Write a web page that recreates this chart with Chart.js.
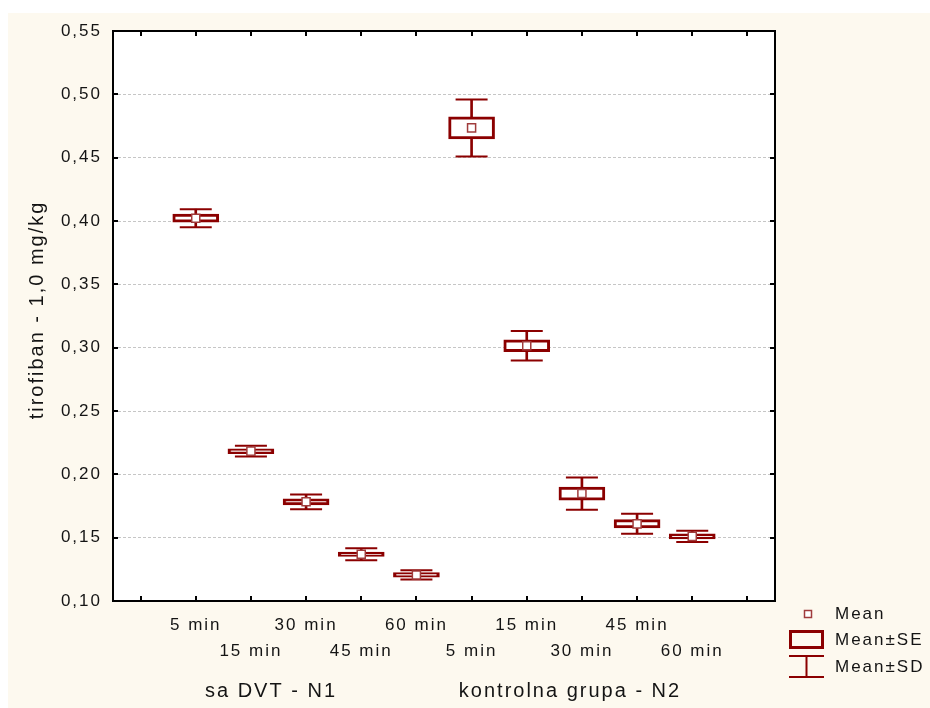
<!DOCTYPE html>
<html><head><meta charset="utf-8">
<script src="https://cdn.jsdelivr.net/npm/chart.js@4.4.1/dist/chart.umd.min.js"></script>
<style>html,body{margin:0;padding:0;background:#fff;overflow:hidden}canvas{display:block}</style>
</head><body>
<canvas id="c" width="930" height="708"></canvas>
<script>
// ---- data ----
const categories = ['5 min','15 min','30 min','45 min','60 min','5 min','15 min','30 min','45 min','60 min'];
const groups = ['sa DVT - N1','kontrolna grupa - N2'];
const means    = [0.4022, 0.2183, 0.1783, 0.1369, 0.1206, 0.4735, 0.3015, 0.1848, 0.1609, 0.1510];
const seValues = [0.0032, 0.0019, 0.0024, 0.0018, 0.0018, 0.0087, 0.0047, 0.0051, 0.0033, 0.0020];
const sdValues = [0.0071, 0.0042, 0.0058, 0.0047, 0.0036, 0.0225, 0.0116, 0.0127, 0.0079, 0.0044];
const yTicks = [0.10, 0.15, 0.20, 0.25, 0.30, 0.35, 0.40, 0.45, 0.50, 0.55];
const yTickLabels = ['0,10','0,15','0,20','0,25','0,30','0,35','0,40','0,45','0,50','0,55'];
const yTitle = 'tirofiban - 1,0 mg/kg';
const legendLabels = ['Mean','Mean\u00B1SE','Mean\u00B1SD'];

// ---- derived tables ----
const labels = [['',''], ...categories.map((c,i)=> i%2===0 ? [c,''] : ['',c]), ['','']];
const pad = v => [null, ...v, null];
const seRanges = pad(means.map((m,i)=>[m - seValues[i], m + seValues[i]]));
const sdRanges = pad(means.map((m,i)=>[m - sdValues[i], m + sdValues[i]]));
const sdHigh = pad(means.map((m,i)=> m + sdValues[i]));
const sdLow  = pad(means.map((m,i)=> m - sdValues[i]));

const RED = '#8b0000';
const FONT = "'Liberation Sans', Arial, sans-serif";
const TXT = '#141414';
const SPACING = '2px';

const deco = {
  id: 'deco',
  beforeUpdate(chart){ chart.ctx.letterSpacing = SPACING; },
  beforeLayout(chart){ chart.ctx.letterSpacing = SPACING; },
  beforeDraw(chart){
    const ctx = chart.ctx, a = chart.chartArea;
    ctx.save();
    ctx.fillStyle = '#ffffff';
    ctx.fillRect(0,0,chart.width,chart.height);
    ctx.fillStyle = '#fdf9ef';
    ctx.fillRect(8,13,chart.width-8,chart.height-13);
    ctx.fillStyle = '#ffffff';
    ctx.fillRect(a.left,a.top,a.right-a.left,a.bottom-a.top);
    ctx.restore();
    ctx.letterSpacing = SPACING;
  },
  afterDraw(chart){
    const ctx = chart.ctx, a = chart.chartArea;
    const xs = chart.scales.x, ys = chart.scales.y;
    ctx.save();
    ctx.letterSpacing = SPACING;
    // tick marks (inside)
    ctx.strokeStyle = '#000'; ctx.lineWidth = 2;
    ctx.beginPath();
    for (let i=0;i<xs.ticks.length;i++){
      const px = Math.round(xs.getPixelForTick(i));
      ctx.moveTo(px, a.bottom); ctx.lineTo(px, a.bottom-5);
      ctx.moveTo(px, a.top); ctx.lineTo(px, a.top+5);
    }
    for (const v of yTicks){
      const py = Math.round(ys.getPixelForValue(v));
      ctx.moveTo(a.left, py); ctx.lineTo(a.left+5, py);
      ctx.moveTo(a.right, py); ctx.lineTo(a.right-5, py);
    }
    ctx.stroke();
    // frame
    ctx.lineWidth = 2;
    ctx.strokeRect(a.left, a.top, a.right-a.left, a.bottom-a.top);
    // y title
    ctx.fillStyle = TXT;
    ctx.font = '20px ' + FONT;
    ctx.textAlign = 'center'; ctx.textBaseline = 'alphabetic';
    ctx.save();
    ctx.translate(43, 310); ctx.rotate(-Math.PI/2);
    ctx.fillText(yTitle, 0, 0);
    ctx.restore();
    // group labels
    ctx.font = '20px ' + FONT;
    ctx.textBaseline = 'middle';
    ctx.fillText(groups[0], 271, 691);
    ctx.fillText(groups[1], 570, 691);
    // legend
    ctx.fillStyle = '#fff'; ctx.strokeStyle = '#a03c3c'; ctx.lineWidth = 1.5;
    ctx.fillRect(804.5, 610.5, 7, 7); ctx.strokeRect(804.5, 610.5, 7, 7);
    ctx.strokeStyle = RED; ctx.lineWidth = 3;
    ctx.strokeRect(790.5, 631.5, 32, 16);
    ctx.lineWidth = 2;
    ctx.beginPath();
    ctx.moveTo(789, 656); ctx.lineTo(824, 656);
    ctx.moveTo(789, 677); ctx.lineTo(824, 677);
    ctx.moveTo(806.5, 656); ctx.lineTo(806.5, 677);
    ctx.stroke();
    ctx.fillStyle = TXT; ctx.font = '17px ' + FONT;
    ctx.textAlign = 'left'; ctx.textBaseline = 'middle';
    ctx.fillText(legendLabels[0], 835, 614);
    ctx.fillText(legendLabels[1], 835, 640);
    ctx.fillText(legendLabels[2], 835, 667);
    ctx.restore();
  }
};

new Chart(document.getElementById('c'), {
  type: 'bar',
  data: {
    labels: labels,
    datasets: [
      { type:'line', label:'Mean', data: pad(means), showLine:false, pointStyle:'rect',
        pointRadius:5.7, pointHoverRadius:5.7, pointBackgroundColor:'#ffffff', pointBorderColor:'#a03c3c', pointBorderWidth:1.5, order:0 },
      { type:'bar', label:'Mean\u00B1SE', data: seRanges, backgroundColor:'#ffffff', borderColor:RED,
        borderWidth:3, borderSkipped:false, barThickness:46, grouped:false, order:1 },
      { type:'bar', label:'SD stem', data: sdRanges, backgroundColor:RED, borderWidth:0,
        barThickness:2, grouped:false, order:2 },
      { type:'line', label:'SD high', data: sdHigh, showLine:false, pointStyle:'line',
        pointRadius:16, pointHoverRadius:16, pointBorderColor:RED, pointBorderWidth:2, order:3 },
      { type:'line', label:'SD low', data: sdLow, showLine:false, pointStyle:'line',
        pointRadius:16, pointHoverRadius:16, pointBorderColor:RED, pointBorderWidth:2, order:3 }
    ]
  },
  options: {
    responsive:false, animation:false, devicePixelRatio:1,
    layout:{ padding:{ top:31, right:155, bottom:0, left:0 } },
    plugins:{ legend:{display:false}, tooltip:{enabled:false} },
    events: [],
    scales:{
      x:{
        type:'category', offset:true,
        grid:{ display:false, drawTicks:false },
        border:{ display:false },
        ticks:{ autoSkip:false, maxRotation:0, minRotation:0, padding:11, color:TXT,
          font:{ family:FONT, size:17, lineHeight:26/17 } },
        afterFit(s){ s.height = 107; }
      },
      y:{
        type:'linear', min:0.10, max:0.55,
        afterBuildTicks(s){ s.ticks = yTicks.map(v=>({value:v})); },
        grid:{ drawTicks:false, lineWidth:1,
          color: c => (c.tick && (Math.abs(c.tick.value-0.10)<1e-9 || Math.abs(c.tick.value-0.55)<1e-9)) ? 'rgba(0,0,0,0)' : '#c6c6c6' },
        border:{ display:false, dash:[3,2] },
        ticks:{ padding:11, color:TXT, font:{ family:FONT, size:17 },
          callback:(v,i)=> yTickLabels[i] },
        afterFit(s){ s.width = 113; }
      }
    }
  },
  plugins:[deco]
});
</script>
</body></html>
